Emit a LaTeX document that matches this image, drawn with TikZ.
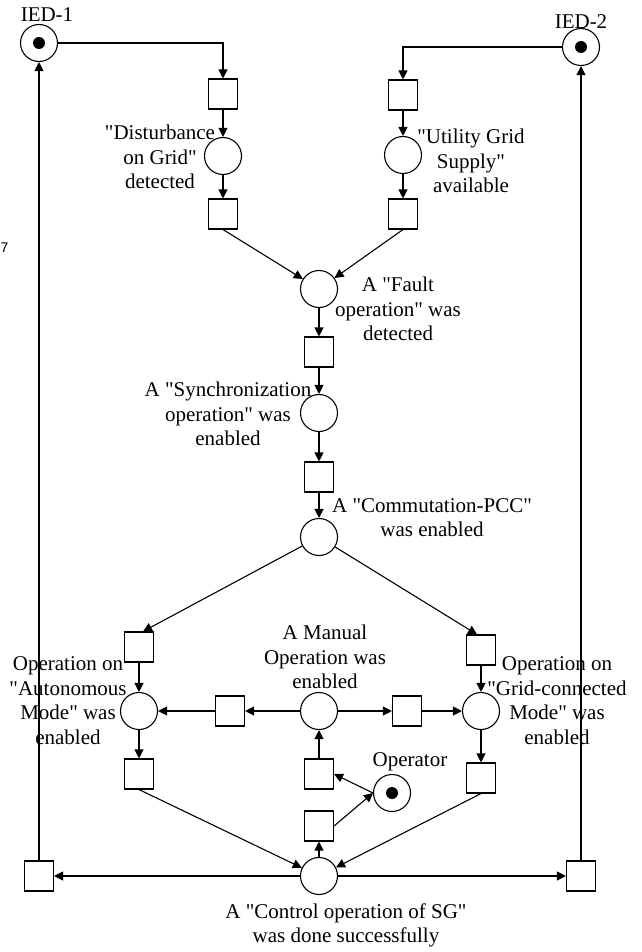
\documentclass[tikz,border=0pt]{standalone}
\usepackage{fontspec}
\setmainfont{Liberation Serif}[Ligatures=TeXOff]
\newfontfamily\arialf{Liberation Sans}
\usetikzlibrary{arrows.meta}
\begin{document}
\begin{tikzpicture}[x=1pt,y=-1pt,
  place/.style={circle,draw,line width=1.1pt,minimum size=37pt,inner sep=0},
  trans/.style={rectangle,draw,line width=1.1pt,minimum width=29pt,minimum height=30pt,inner sep=0},
  lbl/.style={align=center,inner sep=0,font=\fontsize{21}{24.5}\selectfont},
  arc/.style={line width=1.1pt,-{Triangle[length=9pt,width=9pt]}},
  tok/.style={circle,fill,minimum size=12pt,inner sep=0}]
\useasboundingbox (0,0) rectangle (641,952);
% places and transitions
\node[place] (ied1) at (39,43) {};
\node[tok] (ied1t) at (ied1) {};
\node[place] (ied2) at (581,47) {};
\node[tok] (ied2t) at (ied2) {};
\node[trans] (t1) at (223,94) {};
\node[place] (p1) at (223,156) {};
\node[trans] (t2) at (223,214) {};
\node[trans] (t3) at (403,95) {};
\node[place] (p2) at (403,155) {};
\node[trans] (t4) at (403,214) {};
\node[place] (p3) at (319,289) {};
\node[trans] (t5) at (319,352) {};
\node[place] (p4) at (319,413) {};
\node[trans] (t6) at (319,477) {};
\node[place] (p5) at (319,537) {};
\node[trans] (t7) at (139,647) {};
\node[trans] (t10) at (481,650) {};
\node[place] (p6) at (139,711) {};
\node[trans] (t8) at (230,711) {};
\node[place] (p7) at (319,711) {};
\node[trans] (t9) at (407,711) {};
\node[place] (p8) at (481,711) {};
\node[trans] (t11) at (139,774) {};
\node[trans] (t12) at (481,778) {};
\node[trans] (t13) at (319,774) {};
\node[trans] (t14) at (319,826) {};
\node[place] (op) at (392,793) {};
\node[tok] (opt) at (op) {};
\node[place] (pb) at (319,876) {};
\node[trans] (tl) at (39,876) {};
\node[trans] (tr) at (581,876) {};
% arcs
\draw[arc] (ied1.east) -| (t1.north);
\draw[arc] (ied2.west) -| (t3.north);
\draw[arc] (t1) -- (p1);
\draw[arc] (p1) -- (t2);
\draw[arc] (t3) -- (p2);
\draw[arc] (p2) -- (t4);
\draw[arc] (t2.south) -- (p3);
\draw[arc] (t4.south) -- (p3);
\draw[arc] (p3) -- (t5);
\draw[arc] (t5) -- (p4);
\draw[arc] (p4) -- (t6);
\draw[arc] (t6) -- (p5);
\draw[arc] (p5) -- ([xshift=4pt]t7.north);
\draw[arc] (p5) -- ([xshift=-4pt]t10.north);
\draw[arc] (t7) -- (p6);
\draw[arc] (p6) -- (t11);
\draw[arc] (t10) -- (p8);
\draw[arc] (p8) -- (t12);
\draw[arc] (p7) -- (t8);
\draw[arc] (t8) -- (p6);
\draw[arc] (p7) -- (t9);
\draw[arc] (t9) -- (p8);
\draw[arc] (t13) -- (p7);
\draw[arc] (op.west) -- (t13.east);
\draw[arc] (t14.east) -- (op.west);
\draw[arc] (pb) -- (t14);
\draw[arc] (t11.south) -- (pb);
\draw[arc] (t12.south) -- (pb);
\draw[arc] (pb) -- (tl);
\draw[arc] (pb) -- (tr);
\draw[arc] (tl) -- (ied1);
\draw[arc] (tr) -- (ied2);
% labels
\node[lbl] (l0) at (47,15) {IED-1};
\node[lbl] (l00) at (581,22) {IED-2};
\node[lbl] (l1) at (160,157) {"Disturbance\\on Grid"\\detected};
\node[lbl] (l2) at (471,161) {"Utility Grid\\Supply"\\available};
\node[lbl] (l3) at (398,309) {A "Fault\\operation" was\\detected};
\node[lbl] (l4) at (228,414) {A "Synchronization\\operation" was\\enabled};
\node[lbl] (l5) at (432,517.5) {A "Commutation-PCC"\\was enabled};
\node[lbl] (l6) at (68,700.5) {Operation on\\"Autonomous\\Mode" was\\enabled};
\node[lbl] (l7) at (325,657) {A Manual\\Operation was\\enabled};
\node[lbl] (l8) at (557,700.5) {Operation on\\"Grid-connected\\Mode" was\\enabled};
\node[lbl] (l9) at (410,762) {Operator};
\node[lbl] (l10) at (346,925.5) {A "Control operation of SG"\\was done successfully};
\node[anchor=east,inner sep=0,font=\arialf\fontsize{14}{14}\selectfont] (l11) at (8.5,248) {7};
\end{tikzpicture}
\end{document}
